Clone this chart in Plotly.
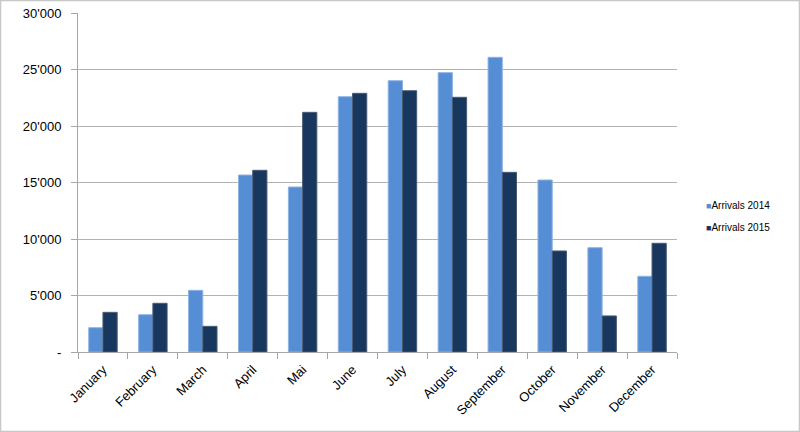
import plotly.graph_objects as go

months = ["January", "February", "March", "April", "Mai", "June", "July",
          "August", "September", "October", "November", "December"]
arrivals_2014 = [2150, 3300, 5460, 15660, 14600, 22590, 24010, 24720, 26080, 15220, 9230, 6700]
arrivals_2015 = [3510, 4310, 2270, 16080, 21210, 22890, 23120, 22540, 15900, 8940, 3190, 9620]
y_tickvals = [0, 5000, 10000, 15000, 20000, 25000, 30000]
y_ticktext = ["-", "5'000", "10'000", "15'000", "20'000", "25'000", "30'000"]
series_names = ["Arrivals 2014", "Arrivals 2015"]
series_colors = ["#558ED5", "#17375E"]
series_edges = ["#8DB3E2", "#4A5B73"]

W, H = 800, 432
ML, MR, MT, MB = 78, 123, 13, 80
PW, PH = W - ML - MR, H - MT - MB

fig = go.Figure()
for vals, name, col, edge in zip([arrivals_2014, arrivals_2015], series_names, series_colors, series_edges):
    fig.add_trace(go.Bar(x=months, y=vals, name=name, showlegend=False,
                         marker=dict(color=col, line=dict(color=edge, width=1))))

annotations = []
for i, (name, col) in enumerate(zip(series_names, series_colors)):
    ypix = 205 + 22 * i
    annotations.append(dict(
        xref="paper", yref="paper", x=(704 - ML) / PW, y=(352 - ypix) / PH,
        xanchor="left", yanchor="middle", showarrow=False,
        text=f"<span style='color:{col};font-size:9px'>■</span>{name}",
        font=dict(family="Liberation Sans, Arial, sans-serif", size=10, color="black")))

fig.update_layout(
    width=W, height=H,
    margin=dict(l=ML, r=MR, t=MT, b=MB, autoexpand=False),
    paper_bgcolor="white", plot_bgcolor="white",
    font=dict(family="Liberation Sans, Arial, sans-serif", color="black"),
    barmode="group", bargap=0.43, bargroupgap=0,
    showlegend=False,
    annotations=annotations,
    shapes=[dict(type="rect", xref="paper", yref="paper",
                 x0=(0.5 - ML) / PW, x1=(W - 0.5 - ML) / PW,
                 y0=-(MB - 0.5) / PH, y1=1 + (MT - 0.5) / PH,
                 line=dict(color="#C8C8C8", width=1.5), layer="below")],
)
fig.update_xaxes(showgrid=False, showline=True, linecolor="#A6A6A6", linewidth=1,
                 ticks="outside", tickson="boundaries", ticklen=6, tickcolor="#A6A6A6",
                 tickangle=-45, tickfont=dict(size=13), automargin=False,
                 ticklabelstandoff=4)
fig.update_yaxes(range=[0, 30000], tickvals=y_tickvals, ticktext=y_ticktext,
                 showgrid=True, gridcolor="#B3B3B3", gridwidth=1,
                 showline=True, linecolor="#A6A6A6", linewidth=1,
                 ticks="outside", ticklen=6, tickcolor="#A6A6A6",
                 tickfont=dict(size=13), zeroline=False, automargin=False,
                 ticklabelstandoff=7)

fig.write_html("out.html", config={"displayModeBar": False},
               post_script="document.body.style.margin='0';document.body.style.padding='0';")
